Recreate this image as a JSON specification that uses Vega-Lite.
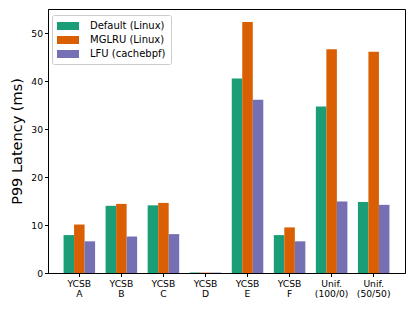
{
  "$schema": "https://vega.github.io/schema/vega-lite/v6.json",
  "width": 357,
  "height": 264,
  "autosize": {"type": "none"},
  "padding": {"left": 48, "top": 9, "right": 10, "bottom": 38},
  "config": {
    "font": "DejaVu Sans",
    "view": {"stroke": "#000000", "strokeWidth": 1},
    "axis": {"grid": false, "domainColor": "#000", "tickColor": "#000", "labelColor": "#000", "titleColor": "#000", "labelFontSize": 9.2, "tickSize": 3.5}
  },
  "data": {
    "values": [
      {"workload": "YCSB A", "policy": "Default (Linux)", "p99": 7.9},
      {"workload": "YCSB A", "policy": "MGLRU (Linux)", "p99": 10.1},
      {"workload": "YCSB A", "policy": "LFU (cachebpf)", "p99": 6.6},
      {"workload": "YCSB B", "policy": "Default (Linux)", "p99": 14.0},
      {"workload": "YCSB B", "policy": "MGLRU (Linux)", "p99": 14.4},
      {"workload": "YCSB B", "policy": "LFU (cachebpf)", "p99": 7.6},
      {"workload": "YCSB C", "policy": "Default (Linux)", "p99": 14.1},
      {"workload": "YCSB C", "policy": "MGLRU (Linux)", "p99": 14.6},
      {"workload": "YCSB C", "policy": "LFU (cachebpf)", "p99": 8.1},
      {"workload": "YCSB D", "policy": "Default (Linux)", "p99": 0.08},
      {"workload": "YCSB D", "policy": "MGLRU (Linux)", "p99": 0.08},
      {"workload": "YCSB D", "policy": "LFU (cachebpf)", "p99": 0.08},
      {"workload": "YCSB E", "policy": "Default (Linux)", "p99": 40.5},
      {"workload": "YCSB E", "policy": "MGLRU (Linux)", "p99": 52.3},
      {"workload": "YCSB E", "policy": "LFU (cachebpf)", "p99": 36.1},
      {"workload": "YCSB F", "policy": "Default (Linux)", "p99": 7.9},
      {"workload": "YCSB F", "policy": "MGLRU (Linux)", "p99": 9.5},
      {"workload": "YCSB F", "policy": "LFU (cachebpf)", "p99": 6.6},
      {"workload": "Unif. (100/0)", "policy": "Default (Linux)", "p99": 34.7},
      {"workload": "Unif. (100/0)", "policy": "MGLRU (Linux)", "p99": 46.6},
      {"workload": "Unif. (100/0)", "policy": "LFU (cachebpf)", "p99": 14.9},
      {"workload": "Unif. (50/50)", "policy": "Default (Linux)", "p99": 14.8},
      {"workload": "Unif. (50/50)", "policy": "MGLRU (Linux)", "p99": 46.1},
      {"workload": "Unif. (50/50)", "policy": "LFU (cachebpf)", "p99": 14.2}
    ]
  },
  "mark": {"type": "bar"},
  "encoding": {
    "x": {
      "field": "workload", "type": "nominal", "sort": null,
      "scale": {"paddingInner": 0.25, "paddingOuter": 0.37},
      "axis": {"title": null, "labelAngle": 0, "labelExpr": "split(datum.label, ' ')", "labelPadding": 3, "labelLineHeight": 10}
    },
    "xOffset": {"field": "policy", "type": "nominal", "sort": ["Default (Linux)", "MGLRU (Linux)", "LFU (cachebpf)"], "scale": {"paddingInner": 0, "paddingOuter": 0}},
    "y": {
      "field": "p99", "type": "quantitative",
      "scale": {"domain": [0, 55], "nice": false},
      "axis": {"title": "P99 Latency (ms)", "titleFontSize": 14.5, "titleFontWeight": "normal", "values": [0, 10, 20, 30, 40, 50], "titlePadding": 6}
    },
    "color": {
      "field": "policy", "type": "nominal",
      "sort": ["Default (Linux)", "MGLRU (Linux)", "LFU (cachebpf)"],
      "scale": {"range": ["#1b9e77", "#d95f02", "#7570b3"]},
      "legend": {
        "title": null, "orient": "none", "legendX": 4, "legendY": 6,
        "fillColor": "#ffffff", "strokeColor": "#cccccc", "cornerRadius": 2, "padding": 5,
        "labelFontSize": 10, "labelColor": "#000",
        "symbolType": "M-1.833,-0.667H1.833V0.667H-1.833Z", "symbolSize": 144, "symbolStrokeWidth": 0,
        "symbolOffset": 5, "rowPadding": 3, "labelOffset": 16
      }
    }
  }
}
